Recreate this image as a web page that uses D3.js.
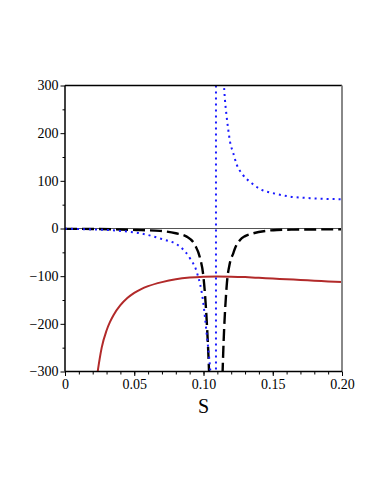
<!DOCTYPE html>
<html>
<head>
<meta charset="utf-8">
<script src="https://cdn.jsdelivr.net/npm/d3@7"></script>
<style>
  body { margin: 0; background: #fff; }
</style>
</head>
<body>
<div id="chart"></div>
<script>
// Values
let xTicks = [0, 0.05, 0.10, 0.15, 0.20]
let xTickLabels = ["0", "0.05", "0.10", "0.15", "0.20"]
let yTicks = [-300, -200, -100, 0, 100, 200, 300]

// red solid curve
let redS = [0.0236, 0.025, 0.0265, 0.03, 0.0325, 0.035, 0.04, 0.045, 0.05, 0.055, 0.06, 0.07, 0.08, 0.09, 0.10, 0.11, 0.12, 0.13, 0.14, 0.15, 0.16, 0.17, 0.18, 0.19, 0.20]
let redV = [-300, -274, -250, -214, -196, -182, -161, -146, -135, -127, -121, -112.5, -106.5, -103, -101.2, -100.6, -101, -102, -103.5, -105, -106.5, -108, -109.5, -111, -112.5]

// black dashed curve, left and right of the pole
let blackLeftS = [0, 0.02, 0.04, 0.055, 0.0686, 0.08, 0.0879, 0.0939, 0.0975, 0.0999, 0.1023, 0.104, 0.1055]
let blackLeftV = [-0.7, -1, -2, -3.5, -5, -10, -17, -35, -62, -100, -193, -300, -450]
let blackRightS = [0.1125, 0.1138, 0.1167, 0.119, 0.1215, 0.1227, 0.1264, 0.13, 0.136, 0.145, 0.153, 0.165, 0.18, 0.2]
let blackRightV = [-450, -300, -122, -73, -52, -42, -24, -16, -10, -5, -3, -2.3, -2, -1.7]

// blue dotted curve
let blueLeftS = [0, 0.02, 0.04, 0.0542, 0.0686, 0.083, 0.0903, 0.095, 0.0999, 0.1023, 0.1047, 0.106]
let blueLeftV = [-0.5, -2, -5, -10, -21, -38, -63, -90, -157, -221, -291, -340]
let blueRightS = [0.1145, 0.1148, 0.1155, 0.1167, 0.1179, 0.1191, 0.1215, 0.124, 0.1283, 0.1348, 0.142, 0.1504, 0.1625, 0.1769, 0.2]
let blueRightV = [320, 300, 270, 235, 207, 183, 158, 134, 113, 95, 81, 74, 67, 63.6, 61.5]
let blueS = 0.109 // vertical jump of the blue curve

let width = 382
let height = 494
let mLeft = 65, mRight = 342, mTop = 85.5, mBottom = 371.5

let svg = d3.select("#chart").append("svg")
    .attr("width", width)
    .attr("height", height)

let x = d3.scaleLinear().domain([0, 0.2]).range([mLeft, mRight])
let y = d3.scaleLinear().domain([-300, 300]).range([mBottom, mTop])

svg.append("clipPath").attr("id", "clip")
  .append("rect")
    .attr("x", mLeft).attr("y", mTop)
    .attr("width", mRight - mLeft).attr("height", mBottom - mTop)

let zip = (s, v) => s.map((d, i) => [d, v[i]])

let line = d3.line()
    .x(d => x(d[0]))
    .y(d => y(d[1]))
    .curve(d3.curveMonotoneX)

let plot = svg.append("g").attr("clip-path", "url(#clip)")

// zero line
plot.append("line")
    .attr("x1", x(0)).attr("x2", x(0.2))
    .attr("y1", y(0)).attr("y2", y(0))
    .attr("stroke", "#555").attr("stroke-width", 1)

// red
plot.append("path")
    .attr("d", line(zip(redS, redV)))
    .attr("fill", "none")
    .attr("stroke", "#b22a2a")
    .attr("stroke-width", 2)

// black dashed
;[zip(blackLeftS, blackLeftV), zip(blackRightS, blackRightV)].forEach(pts => {
  plot.append("path")
      .attr("d", line(pts))
      .attr("fill", "none")
      .attr("stroke", "#000")
      .attr("stroke-width", 2.4)
      .attr("stroke-dasharray", "12 5")
})

// blue dotted
let blueDash = "2 4"
;[zip(blueLeftS, blueLeftV), zip(blueRightS, blueRightV)].forEach(pts => {
  plot.append("path")
      .attr("d", line(pts))
      .attr("fill", "none")
      .attr("stroke", "#1a1aff")
      .attr("stroke-width", 2)
      .attr("stroke-dasharray", blueDash)
})
plot.append("line")
    .attr("x1", x(blueS)).attr("x2", x(blueS))
    .attr("y1", y(300)).attr("y2", y(-300))
    .attr("stroke", "#1a1aff")
    .attr("stroke-width", 2)
    .attr("stroke-dasharray", blueDash)

// frame
svg.append("line")
    .attr("x1", mLeft).attr("x2", mRight).attr("y1", mTop).attr("y2", mTop)
    .attr("stroke", "#000").attr("stroke-width", 1.5)
svg.append("line")
    .attr("x1", mRight).attr("x2", mRight).attr("y1", mTop).attr("y2", mBottom)
    .attr("stroke", "#888").attr("stroke-width", 2)

// axes
let fmtY = d => d < 0 ? "\u2212" + (-d) : String(d)

let yMinor = svg.append("g")
    .attr("transform", "translate(" + mLeft + ",0)")
    .call(d3.axisLeft(y).tickValues(d3.range(-250, 300, 100)).tickSize(2.5).tickFormat(""))
yMinor.select(".domain").remove()

let yAxis = svg.append("g")
    .attr("transform", "translate(" + mLeft + ",0)")
    .call(d3.axisLeft(y).tickValues(yTicks).tickSize(4.5).tickPadding(2).tickFormat(fmtY))

let xMinor = svg.append("g")
    .attr("transform", "translate(0," + mBottom + ")")
    .call(d3.axisBottom(x).tickValues(d3.range(0.01, 0.2, 0.01)).tickSize(3).tickFormat(""))
xMinor.select(".domain").remove()

let xAxis = svg.append("g")
    .attr("transform", "translate(0," + mBottom + ")")
    .call(d3.axisBottom(x).tickValues(xTicks).tickSize(4.5).tickPadding(3)
      .tickFormat((d, i) => xTickLabels[i]))

yAxis.select(".domain").attr("d", "M0," + mTop + "V" + mBottom).attr("stroke-width", 1.5)
xAxis.select(".domain").attr("d", "M" + mLeft + ",0H" + mRight).attr("stroke-width", 1.5)

svg.selectAll("g").attr("font-family", null).attr("font-size", null)
svg.selectAll(".tick text")
    .style("font-family", "'Liberation Serif', serif")
    .style("font-size", "14px")
    .attr("fill", "#000")

svg.append("text")
    .attr("x", x(0.1))
    .attr("y", 413)
    .attr("text-anchor", "middle")
    .style("font-family", "'Liberation Serif', serif")
    .style("font-size", "20px")
    .text("S")
</script>
</body>
</html>
